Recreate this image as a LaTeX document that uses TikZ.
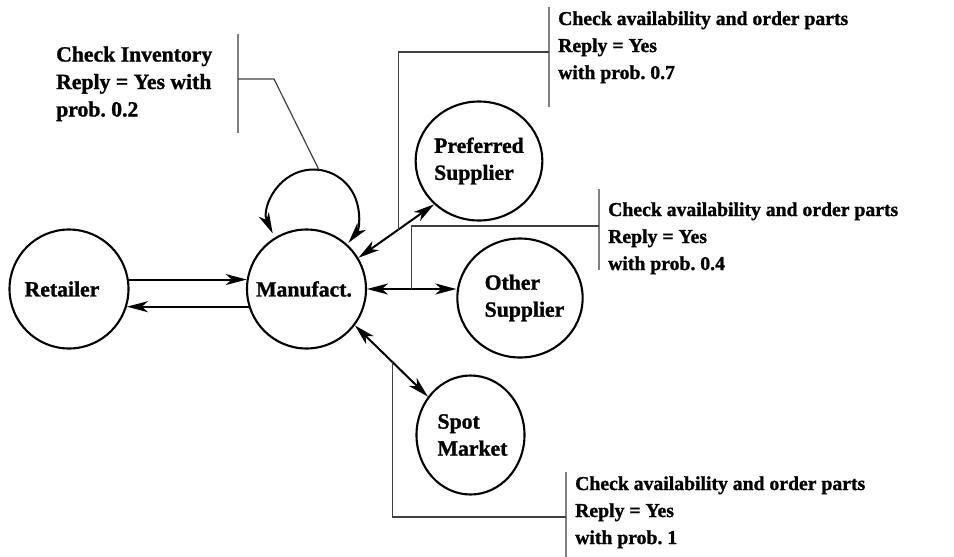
\documentclass[tikz,border=0pt]{standalone}
\usepackage{fontspec}
\setmainfont{Liberation Serif}[BoldFont={Liberation Serif Bold},BoldFeatures={FakeBold=1.2}]
\usetikzlibrary{arrows.meta,shapes.geometric,calc}
\frenchspacing
\begin{document}
\begin{tikzpicture}[x=1pt,y=-1pt,
  agent/.style={draw,line width=2.1pt,circle,minimum size=119pt,inner sep=0pt,
    font=\fontsize{21.7}{27}\selectfont\bfseries,align=left},
  supplier/.style={draw,line width=2.1pt,ellipse,minimum width=108pt,minimum height=119pt,
    inner sep=0pt,font=\fontsize{21.7}{27}\selectfont\bfseries,align=left},
  flow/.style={line width=2pt,-{Stealth[length=21pt,width=11pt,inset=6pt]}},
  twoway/.style={line width=2pt,{Stealth[length=21pt,width=11pt,inset=6pt]}-{Stealth[length=21pt,width=11pt,inset=6pt]}},
  notebar/.style={draw=black!50,line width=2pt},
  leader/.style={draw=black!75,line width=1.2pt},
  noteL/.style={anchor=base west,inner sep=0pt,font=\fontsize{21.7}{27.5}\selectfont\bfseries},
  noteR/.style={anchor=base west,inner sep=0pt,font=\fontsize{19.7}{27}\selectfont\bfseries}
]
\useasboundingbox (0,0) rectangle (954,557);

% actors
\node[agent] (r) at (69,289) {Retailer\hspace*{14pt}};
\node[agent] (m) at (306.5,289) {Manufact.\hspace*{5pt}};
\node[supplier] (ps) at (479,161) {Preferred\\Supplier};
\node[supplier] (os) at (520,298) {\hspace*{9pt}Other\\\hspace*{9pt}Supplier};
\node[supplier] (sm) at (470.5,435) {\hspace*{4pt}Spot\\\hspace*{4pt}Market};

% order and reply between retailer and manufacturer
\draw[flow] (r.9) -- (m.171);
\draw[flow] (m.197.6) -- (r.-17.6);

% manufacturer to suppliers
\draw[twoway] (m.31) -- coordinate[pos=0.528] (k1) (ps.224);
\draw[twoway] (m.east) -- coordinate[pos=0.497] (k2) (m.east -| os.west);
\draw[twoway] (m.-37) -- coordinate[pos=0.512] (k3) (sm.138);

% inventory self-loop
\coordinate (loopc) at (313.5,214.5);
\draw[twoway] (loopc) ++(155:45) arc[start angle=155,end angle=399,radius=45];
\coordinate (looptop) at ($(loopc)+(277:45)$);

% annotations
\node[noteL] (t0) at (56,61.5) {\begin{tabular}[t]{@{}l@{}}Check Inventory\\Reply = Yes with\\prob. 0.2\end{tabular}};
\node[noteR] (t1) at (558,25) {\begin{tabular}[t]{@{}l@{}}Check availability and order parts\\Reply = Yes\\with prob. 0.7\end{tabular}};
\node[noteR] (t2) at (608,216) {\begin{tabular}[t]{@{}l@{}}Check availability and order parts\\Reply = Yes\\with prob. 0.4\end{tabular}};
\node[noteR] (t3) at (575,490) {\begin{tabular}[t]{@{}l@{}}Check availability and order parts\\Reply = Yes\\with prob. 1\end{tabular}};

% annotation bars
\coordinate (b0a) at (238,34);  \coordinate (b0b) at (238,133); \coordinate (b0m) at (238,79);
\coordinate (b1a) at (549,7);   \coordinate (b1b) at (549,107); \coordinate (b1m) at (549,52);
\coordinate (b2a) at (599,189); \coordinate (b2b) at (599,270); \coordinate (b2m) at (599,226);
\coordinate (b3a) at (566,472); \coordinate (b3b) at (566,560); \coordinate (b3m) at (566,517);
\draw[notebar] (b0a) -- (b0b);
\draw[notebar] (b1a) -- (b1b);
\draw[notebar] (b2a) -- (b2b);
\draw[notebar] (b3a) -- (b3b);

% leaders from bars to connectors
\draw[leader] (b0m) -- ++(36,0) -- (looptop);
\draw[leader] (b1m) -| (k1);
\draw[leader] (b2m) -| (k2);
\draw[leader] (b3m) -| (k3);
\end{tikzpicture}
\end{document}
